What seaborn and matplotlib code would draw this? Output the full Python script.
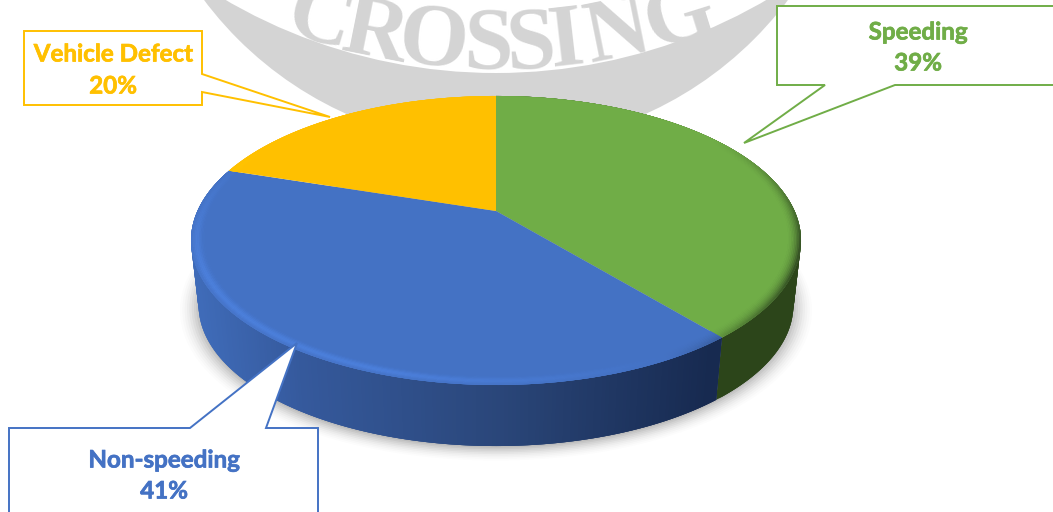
import numpy as np
import matplotlib
matplotlib.use("Agg")
import matplotlib.pyplot as plt
import matplotlib.patheffects as pe
import seaborn as sns
from matplotlib.collections import PolyCollection
from matplotlib.colors import to_rgb
from matplotlib.patches import Circle, Polygon
from matplotlib.transforms import Transform

categories = ["Speeding", "Non-speeding", "Vehicle Defect"]
values = [39, 41, 20]
top_colors = ["#70AD47", "#4472C4", "#FFC000"]
watermark = "CROSSING"

sns.set_theme(style="white")
plt.rcParams["font.family"] = ["Lato", "DejaVu Sans"]
palette = sns.color_palette(top_colors)


class Tilt(Transform):
    """Perspective view of the unit-circle pie, output in pixels."""
    input_dims = output_dims = 2
    is_separable = False
    has_inverse = False

    def __init__(self, scale=1.0, drop=0.0):
        super().__init__()
        self.scale, self.drop = scale, drop

    def transform_non_affine(self, pts):
        pts = np.asarray(pts, float)
        w = 1 + 0.204 * pts[:, 1]
        return np.column_stack([496 + self.scale * 298.6 * pts[:, 0] / w,
                                211 + self.drop - self.scale * 138.5 * pts[:, 1] / w])


top = Tilt()
bottom = Tilt(0.975, 65.4)

fig = plt.figure(figsize=(10.53, 5.12), dpi=100, facecolor="white")
ax = fig.add_axes([0, 0, 1, 1])
wedges, _ = ax.pie(values, colors=palette, startangle=90, counterclock=False, radius=1.0)
for w in wedges:
    w.set_transform(top + ax.transData)
    w.set_zorder(4)
    w.set_linewidth(0)
ax.set_aspect("auto")
ax.set_xlim(0, 1053)
ax.set_ylim(512, 0)
ax.axis("off")

# Watermark behind the chart
grey = "#D4D4D4"
ax.add_patch(Circle((496, -219), 365, fc=grey, ec="none", zorder=1))
ax.add_patch(Circle((496, -464), 537, fc="white", ec="none", zorder=1.1))
letter_x = [314, 371, 431, 488, 532, 569, 622, 686]
for ch, x in zip(watermark, letter_x):
    dx = x - 496
    R = 636
    base = 68 - (R - np.sqrt(R ** 2 - dx ** 2))
    ax.text(x, base, ch, family="Liberation Serif", weight="bold", fontsize=64, color=grey,
            rotation=np.degrees(np.arcsin(dx / R)), rotation_mode="anchor",
            ha="center", va="baseline", zorder=1.2)

# Soft shadow under the disc
for r, a in zip(np.linspace(1.06, 1.0, 9), [0.012, 0.015, 0.02, 0.025, 0.03, 0.035, 0.04, 0.05, 0.06]):
    ax.add_patch(Circle((0, 0), r, fc="black", ec="none", alpha=a, zorder=2,
                        transform=Tilt(0.975, 67.0) + ax.transData))


def mix(c, other, t):
    return tuple(np.array(c) * (1 - t) + np.array(other) * t)


def side_color(i, x):
    if categories[i] == "Speeding":
        return to_rgb("#2C451A")
    stops = [(198, "#3F6BB8"), (300, "#35599C"), (500, "#2A4679"), (710, "#172A50")]
    xs = [s[0] for s in stops]
    rgb = np.array([to_rgb(s[1]) for s in stops])
    return tuple(np.interp(x, xs, rgb[:, k]) for k in range(3))


# Outer wall and bevelled rim, one slice at a time
for i, w in enumerate(wedges):
    ang = np.radians(np.linspace(w.theta1, w.theta2, 240))
    ring = np.column_stack([np.cos(ang), np.sin(ang)])
    n = len(ang)
    if categories[i] != "Vehicle Defect":
        a, b = top.transform(ring), bottom.transform(ring)
        quads = [[a[k], a[min(k + 3, n - 1)], b[min(k + 3, n - 1)], b[k]] for k in range(n - 1)]
        cols = [side_color(i, a[k, 0]) for k in range(n - 1)]
        ax.add_collection(PolyCollection(quads, facecolors=cols, edgecolors="none",
                                         linewidths=0, zorder=3))
    radii = np.linspace(0.955, 1.0, 10)
    quads, cols = [], []
    base = np.array(palette[i])
    glow = np.clip(base * 1.3, 0, 1)
    for r0, r1 in zip(radii[:-1], radii[1:]):
        t = (0.5 * (r0 + r1) - radii[0]) / (radii[-1] - radii[0])
        a, b = top.transform(ring * r0), top.transform(ring * r1)
        for k in range(n - 1):
            u, v = ring[k]
            light = -0.85 * u - 0.45 * v
            front = np.clip(0.55 - v, 0, 1)
            if light > 0:
                c = mix(base, glow, 0.4 * front * min(light * 1.4, 1) * np.exp(-((t - 0.6) / 0.32) ** 2))
            else:
                c = mix(base, (0.05, 0.07, 0.05), 0.8 * front * min(-light * 1.4, 1) * t ** 2)
            e = min(k + 3, n - 1)
            quads.append([a[k], a[e], b[e], b[k]])
            cols.append(c)
    ax.add_collection(PolyCollection(quads, facecolors=cols, edgecolors="none",
                                     linewidths=0, zorder=5))

# Callouts
boxes = {
    "Speeding": [(777, 6), (1070, 6), (1070, 85), (895, 85), (744, 143), (825, 85), (777, 85)],
    "Non-speeding": [(9, 428), (190, 428), (297, 343), (266, 428), (318, 428), (318, 530), (9, 530)],
    "Vehicle Defect": [(24, 31), (202, 31), (202, 74), (330, 117), (202, 92), (202, 105), (24, 105)],
}
text_pos = {"Speeding": (918, 32, 63), "Non-speeding": (164, 460, 491), "Vehicle Defect": (113, 54, 86)}
for cat, val, col in zip(categories, values, palette):
    ax.add_patch(Polygon(boxes[cat], closed=True, fc="white", ec=col, lw=1.4, zorder=6))
    x, y1, y2 = text_pos[cat]
    stroke = [pe.withStroke(linewidth=0.5, foreground=col)]
    ax.text(x, y1, cat, color=col, weight="bold", fontsize=17.4, ha="center", va="center",
            zorder=7, path_effects=stroke)
    ax.text(x, y2, f"{val}%", color=col, weight="bold", fontsize=17.4, ha="center", va="center",
            zorder=7, path_effects=stroke)

fig.savefig("out.png", dpi=100)
